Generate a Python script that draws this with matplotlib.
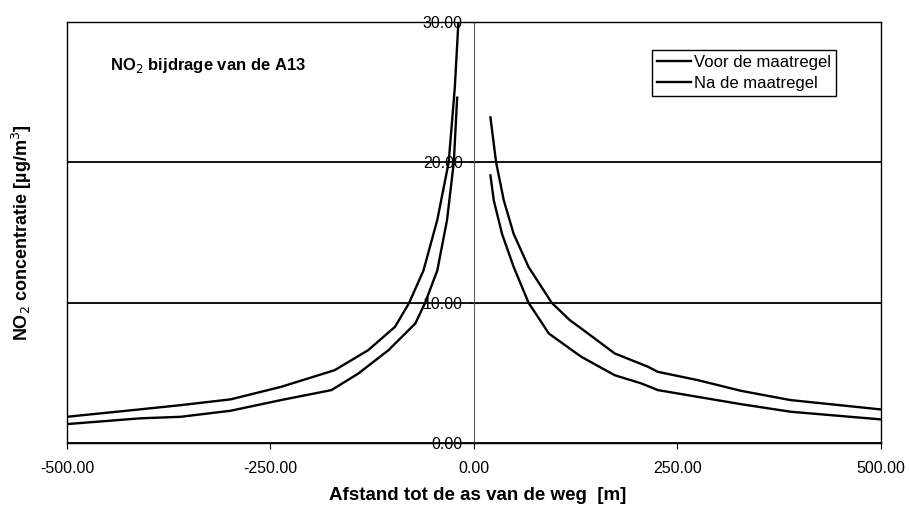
import numpy as np
import matplotlib
matplotlib.use("Agg")
import matplotlib.pyplot as plt

plt.rcParams["font.family"] = ["Liberation Sans", "DejaVu Sans"]
plt.rcParams["axes.unicode_minus"] = False

# distances [m] and NO2 contribution [ug/m3], west (negative) and east side of the road
x_left_voor = [-500, -410, -360, -299, -237, -171, -130, -97, -80, -62, -45, -31, -23.5, -19.4, -18.8]
y_left_voor = [1.89, 2.42, 2.72, 3.13, 4.02, 5.21, 6.63, 8.29, 9.95, 12.3, 15.9, 20.0, 25.3, 29.6, 30.5]
x_left_na = [-500, -410, -360, -299, -237, -175, -142, -105, -72, -60, -45, -33, -24.7, -20.6]
y_left_na = [1.37, 1.78, 1.89, 2.32, 3.08, 3.79, 4.97, 6.63, 8.53, 10.0, 12.3, 15.9, 20.0, 24.6]

x_right_voor = [20.3, 27.3, 36.7, 48.9, 67.2, 95.7, 118, 132, 173, 214, 226, 275, 328, 389, 499]
y_right_voor = [23.2, 20.0, 17.3, 14.9, 12.55, 10.0, 8.76, 8.17, 6.4, 5.45, 5.09, 4.5, 3.74, 3.08, 2.42]
x_right_na = [20.3, 24.4, 34.6, 48.9, 67.2, 81.4, 92, 132, 173, 206, 226, 275, 328, 389, 499]
y_right_na = [19.07, 17.3, 14.9, 12.55, 10.0, 8.76, 7.82, 6.16, 4.85, 4.26, 3.79, 3.31, 2.79, 2.25, 1.71]

xticks = [-500, -250, 0, 250, 500]
yticks = [0, 10, 20, 30]

fig = plt.figure(figsize=(9.09, 5.09), dpi=100)
ax = fig.add_axes([0.0737, 0.129, 0.8953, 0.828])

ax.plot(x_left_voor, y_left_voor, color="k", lw=1.7, label="Voor de maatregel")
ax.plot(x_right_voor, y_right_voor, color="k", lw=1.7)
ax.plot(x_left_na, y_left_na, color="k", lw=1.7, label="Na de maatregel")
ax.plot(x_right_na, y_right_na, color="k", lw=1.7)

ax.set_xlim(-500, 500)
ax.set_ylim(0, 30)
ax.set_xticks(xticks)
ax.set_yticks(yticks)
ax.xaxis.set_major_formatter(matplotlib.ticker.FormatStrFormatter("%.2f"))
ax.yaxis.set_major_formatter(matplotlib.ticker.FormatStrFormatter("%.2f"))

# y axis crosses at x = 0, frame kept round the plot area
ax.spines["left"].set_position(("data", 0))
ax.spines["left"].set_color("0.35")
ax.spines["left"].set_linewidth(0.8)
ax.axvline(-500, color="k", lw=1.0, clip_on=False)
for s in ("top", "bottom", "right"):
    ax.spines[s].set_linewidth(1.0)
ax.yaxis.grid(True, color="k", lw=1.3)
ax.set_axisbelow(True)

ax.tick_params(axis="x", direction="out", length=4, pad=9, labelsize=11.5)
ax.tick_params(axis="y", direction="inout", length=6, pad=5, labelsize=11.5)

ax.set_xlabel("Afstand tot de as van de weg  [m]", fontsize=13.5, fontweight="bold", va="center")
ax.xaxis.set_label_coords(0.504, -0.123)
ax.set_ylabel("NO$_2$ concentratie [µg/m$^3$]", fontsize=13, fontweight="bold", va="center")
ax.yaxis.set_label_coords(-0.055, 0.5)

ax.text(0.053, 0.897, "NO$_2$ bijdrage van de A13", transform=ax.transAxes,
        fontsize=12, fontweight="bold", va="center", ha="left")

leg = ax.legend(loc="upper right", bbox_to_anchor=(0.945, 0.934), fontsize=12,
                frameon=True, fancybox=False, edgecolor="k", framealpha=1,
                handlelength=2.0, handletextpad=0.2, borderpad=0.3, labelspacing=0.35,
                borderaxespad=0)
leg.get_frame().set_linewidth(1.0)

fig.savefig("out.png", dpi=100)
